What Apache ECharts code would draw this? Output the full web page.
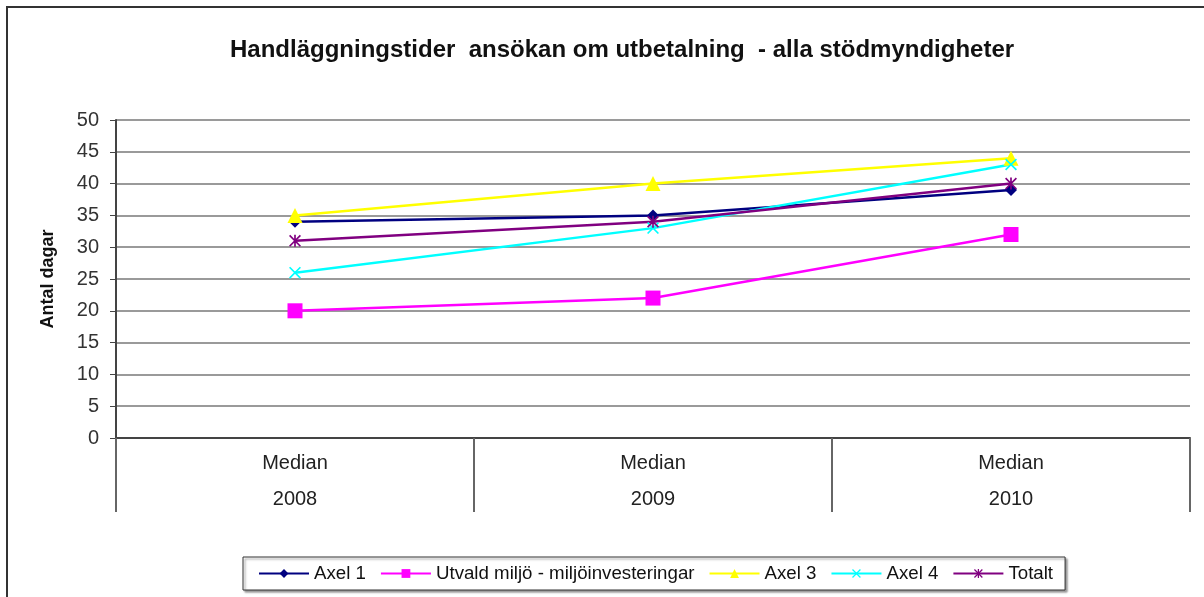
<!DOCTYPE html>
<html><head><meta charset="utf-8">
<script src="https://cdn.jsdelivr.net/npm/echarts@6/dist/echarts.min.js"></script>
<style>html,body{margin:0;padding:0;background:#fff}#c{width:1204px;height:597px}</style>
</head><body><div id="c"></div>
<script>
var categoryTop = ['Median','Median','Median'];
var years = ['2008','2009','2010'];
var axel1 = [34, 35, 39];
var utvald = [20, 22, 32];
var axel3 = [35, 40, 44];
var axel4 = [26, 33, 43];
var totalt = [31, 34, 40];
var yTicks = [0, 50, 5];

var xPath = 'path://M0,1L1,0L10,9L9,10ZM9,0L10,1L1,10L0,9Z';
var starPath = 'path://M0,1L1,0L10,9L9,10ZM9,0L10,1L1,10L0,9ZM4.3,0L5.7,0L5.7,10L4.3,10Z';
var cats = years.map(function(y,i){return categoryTop[i]+'\n'+y;});
var FONT = '"Liberation Sans", Arial, sans-serif';

function mk(name, data, color, symbol, size){
  return {name:name,type:'line',data:data,symbol:symbol,symbolSize:size,
    lineStyle:{color:color,width:2.5},itemStyle:{color:color},color:color,animation:false};
}

var chart = echarts.init(document.getElementById('c'));
chart.setOption({
  animation:false,
  textStyle:{fontFamily:FONT},
  title:{text:'Handläggningstider  ansökan om utbetalning  - alla stödmyndigheter',
    left:225, top:33, textStyle:{fontFamily:FONT,fontSize:24,fontWeight:'bold',color:'#111'}},
  graphic:[{type:'rect',shape:{x:7,y:7,width:1300,height:700},style:{fill:'none',stroke:'#333',lineWidth:2},silent:true}],
  grid:{left:116,right:14,top:120,bottom:159,containLabel:false},
  legend:{left:243,top:557,padding:[7,12,7,15],borderColor:'#333',borderWidth:1,
    itemWidth:50,itemHeight:11,itemGap:14,
    textStyle:{fontFamily:FONT,fontSize:18.7,color:'#111'},
    shadowColor:'rgba(0,0,0,0.4)',shadowBlur:2,shadowOffsetX:2,shadowOffsetY:2,
    backgroundColor:'#fff'},
  xAxis:{type:'category',data:cats,boundaryGap:true,
    axisLine:{lineStyle:{color:'#444',width:2}},
    axisTick:{show:true,length:74,interval:0,lineStyle:{color:'#666',width:2}},
    axisLabel:{interval:0,margin:7,lineHeight:36,fontSize:20,color:'#222',fontFamily:FONT}},
  yAxis:{type:'value',min:yTicks[0],max:yTicks[1],interval:yTicks[2],
    name:'Antal dagar',nameLocation:'middle',nameRotate:90,nameGap:59,
    nameTextStyle:{fontFamily:FONT,fontSize:18,fontWeight:'bold',color:'#111'},
    axisLine:{show:true,lineStyle:{color:'#444',width:2}},
    axisTick:{show:true,length:6,lineStyle:{color:'#444'}},
    axisLabel:{margin:17,fontSize:20,color:'#333',fontFamily:FONT},
    splitLine:{show:true,lineStyle:{color:'#9a9a9a',width:2}}},
  series:[
    mk('Axel 1', axel1, '#000080', 'diamond', 12),
    mk('Utvald miljö - miljöinvesteringar', utvald, '#FF00FF', 'rect', 15),
    mk('Axel 3', axel3, '#FFFF00', 'triangle', 15),
    mk('Axel 4', axel4, '#00FFFF', xPath, 12),
    mk('Totalt', totalt, '#800080', starPath, 12)
  ]
});
</script></body></html>
